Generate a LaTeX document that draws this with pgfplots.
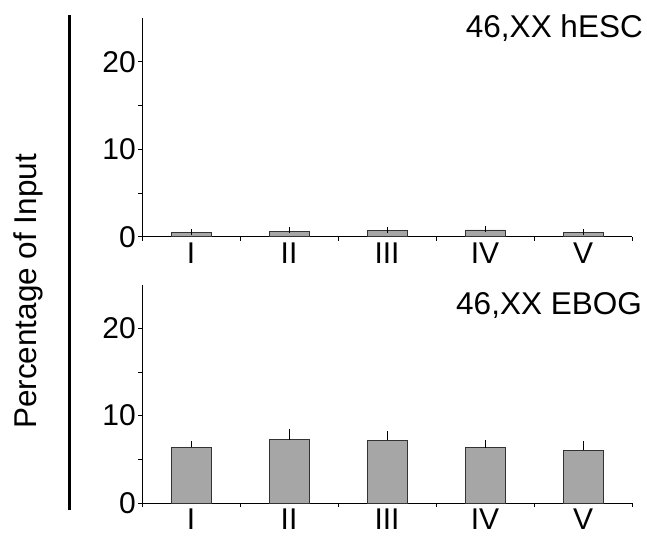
\documentclass[border=0pt]{standalone}
\usepackage{fontspec}
\setmainfont{Liberation Sans}
\usepackage{pgfplots}
\pgfplotsset{compat=1.18}
\definecolor{barfill}{HTML}{A6A6A6}
\pgfplotsset{
  panel/.style={
    scale only axis,
    width=490pt, height=218.5pt,
    xmin=-0.5, xmax=4.5, ymin=0, ymax=25,
    axis x line=bottom, axis y line=left,
    axis line style={-, black, line width=0.8pt},
    xtick={-0.5,0.5,1.5,2.5,3.5,4.5},
    xticklabels={},
    extra x ticks={0,1,2,3,4},
    extra x tick labels={I,II,III,IV,V},
    extra x tick style={major tick length=0pt, tick style={draw=none},
      xticklabel style={inner sep=0pt, yshift=-6pt}},
    ytick={0,10,20}, minor ytick={5,15},
    tick align=outside,
    major tick length=4pt, minor tick length=4pt,
    tick style={black, line width=0.8pt},
    /pgf/number format/assume math mode=true,
    tick label style={font=\fontsize{30}{30}\selectfont},
    yticklabel style={inner sep=2pt},
    ybar, bar width=40pt,
  },
  barsty/.style={fill=barfill, draw=black!80, line width=0.8pt, bar shift=0pt,
    error bars/.cd, y dir=plus, y explicit,
    error bar style={black, line width=0.8pt},
    error mark options={black, mark size=3pt, line width=0.8pt}},
}
\begin{document}
\begin{tikzpicture}
\useasboundingbox (0,0) rectangle (647pt,538pt);
\begin{axis}[panel, at={(142pt,301.3pt)}, anchor=south west]
\addplot[barsty]
  coordinates {(0,0.50) +- (0,0.04) (1,0.65) +- (0,0.10) (2,0.69) +- (0,0.05) (3,0.77) +- (0,0.07) (4,0.50) +- (0,0.04)};
\end{axis}
\begin{axis}[panel, at={(142pt,35pt)}, anchor=south west]
\addplot[barsty]
  coordinates {(0,6.37) +- (0,0.33) (1,7.24) +- (0,0.84) (2,7.20) +- (0,0.69) (3,6.32) +- (0,0.54) (4,6.02) +- (0,0.72)};
\end{axis}
\draw[line width=3pt] (69pt,28pt) -- (69pt,523pt);
\node[rotate=90, font=\fontsize{31.5}{31.5}\selectfont] at (28pt,246.5pt) {Percentage of Input};
\node[anchor=base east, font=\fontsize{31.5}{31.5}\selectfont, inner sep=0pt] at (643pt,500pt) {46,XX hESC};
\node[anchor=base east, font=\fontsize{31.5}{31.5}\selectfont, inner sep=0pt] at (642pt,223pt) {46,XX EBOG};
\end{tikzpicture}
\end{document}
